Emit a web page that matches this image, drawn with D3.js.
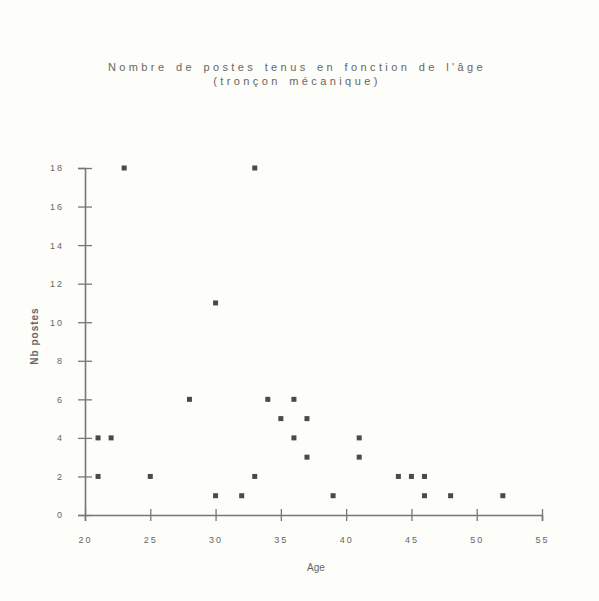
<!DOCTYPE html>
<html>
<head>
<meta charset="utf-8">
<script src="https://cdn.jsdelivr.net/npm/d3@7"></script>
<style>
  body { margin: 0; background: #fdfdf9; }
  text { font-family: "Liberation Sans", Arial, sans-serif; fill: #666; }
</style>
</head>
<body>
<div id="chart"></div>
<script>
// Data
const ages = [21, 22, 21, 23, 25, 28, 30, 30, 32, 33, 33, 34, 35, 36, 36, 37, 37, 39, 41, 41, 44, 45, 46, 46, 48, 52];
const postes = [4, 4, 2, 18, 2, 6, 11, 1, 1, 2, 18, 6, 5, 6, 4, 5, 3, 1, 4, 3, 2, 2, 2, 1, 1, 1];
const xTicks = [20, 25, 30, 35, 40, 45, 50, 55];
const yTicks = [0, 2, 4, 6, 8, 10, 12, 14, 16, 18];
const titleLines = ["Nombre de postes tenus en fonction de l'âge", "(tronçon mécanique)"];

const dataset = ages.map((a, i) => ({ age: a, n: postes[i] }));

// Dimensions
const width = 599;
const height = 601;

const svg = d3
  .select("#chart")
  .append("svg")
  .attr("width", width)
  .attr("height", height);

svg.append("rect").attr("width", width).attr("height", height).attr("fill", "#fdfdf9");

// Scales
const xScale = d3.scaleLinear().domain([20, 55]).range([85, 542]);
const yScale = d3.scaleLinear().domain([0, 18]).range([515, 168]);

// Title
svg
  .selectAll(".title")
  .data(titleLines)
  .join("text")
  .attr("class", "title")
  .attr("x", 297)
  .attr("y", (d, i) => 71 + i * 14)
  .attr("text-anchor", "middle")
  .attr("font-size", 11)
  .attr("letter-spacing", 3.4)
  .attr("word-spacing", 2)
  .text((d) => d);

// Axes
const xAxis = d3
  .axisBottom(xScale)
  .tickValues(xTicks)
  .tickSize(6)
  .tickPadding(16)
  .tickFormat(d3.format("d"));

const xAxisG = svg
  .append("g")
  .attr("transform", `translate(0, ${yScale(0)})`)
  .call(xAxis);

const yAxis = d3
  .axisLeft(yScale)
  .tickValues(yTicks)
  .tickSize(7)
  .tickPadding(14)
  .tickFormat(d3.format("d"));

const yAxisG = svg
  .append("g")
  .attr("transform", `translate(${xScale(20)}, 0)`)
  .call(yAxis);

[xAxisG, yAxisG].forEach((g) => {
  g.select(".domain").attr("stroke", "#777").attr("stroke-width", 1.6);
  g.selectAll(".tick line").attr("stroke", "#777").attr("stroke-width", 1.3);
  g.selectAll(".tick text")
    .attr("fill", "#666")
    .attr("font-size", 9)
    .attr("letter-spacing", 2)
    .attr("font-family", "Liberation Sans, Arial, sans-serif");
});

// ticks cross the axis line
xAxisG.selectAll(".tick line").attr("y1", -6).attr("y2", 6);
yAxisG.selectAll(".tick line").attr("x1", -7).attr("x2", 7);

// Axis labels
svg
  .append("text")
  .attr("x", 316)
  .attr("y", 571)
  .attr("text-anchor", "middle")
  .attr("font-size", 10)
  .text("Age");

svg
  .append("text")
  .attr("transform", "translate(38, 336) rotate(-90)")
  .attr("text-anchor", "middle")
  .attr("font-size", 10)
  .attr("font-weight", "bold")
  .attr("letter-spacing", 1)
  .text("Nb postes");

// Points
svg
  .selectAll(".pt")
  .data(dataset)
  .join("rect")
  .attr("class", "pt")
  .attr("x", (d) => xScale(d.age) - 2.5)
  .attr("y", (d) => yScale(d.n) - 2.5)
  .attr("width", 5)
  .attr("height", 5)
  .attr("fill", "#4a4a4a");
</script>
</body>
</html>
